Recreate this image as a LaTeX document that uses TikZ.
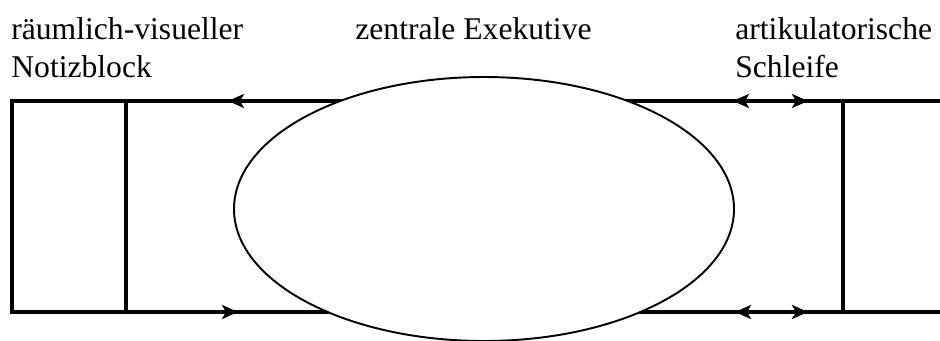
\documentclass[tikz,border=0pt]{standalone}
\usepackage{fontspec}
\setmainfont{Liberation Serif}
\usetikzlibrary{positioning,arrows.meta,shapes.geometric}
\tikzset{
  wm line/.style={line width=2.2pt,black},
  wm arrow/.style={wm line,-{Stealth[length=3.2mm,width=2.8mm,inset=0.8mm]}},
  wm twoway/.style={wm line,{Stealth[length=3.2mm,width=2.8mm,inset=0.8mm]}-{Stealth[length=3.2mm,width=2.8mm,inset=0.8mm]}},
  wm exec/.style={draw=black,line width=1.1pt,ellipse,fill=white,
    minimum width=10cm,minimum height=5.28cm,inner sep=0pt,outer sep=0pt},
  wm label/.style={font=\fontsize{18}{21.6}\selectfont,align=left,
    anchor=base west,inner sep=0pt}
}

\begin{document}
\begin{tikzpicture}
  \useasboundingbox (0,0) rectangle (18.8,6.8);

  % Frame of the two slave systems.
  \coordinate (top-r) at (18.8,4.78);
  \coordinate (top-l) at (0.24,4.78);
  \coordinate (bot-l) at (0.24,0.56);
  \coordinate (bot-r) at (18.8,0.56);
  \coordinate (nb-top) at (2.52,4.78);
  \coordinate (nb-bot) at (2.52,0.56);
  \coordinate (as-top) at (16.86,4.78);
  \coordinate (as-bot) at (16.86,0.56);
  \draw[wm line] (top-r) -- (top-l) -- (bot-l) -- (bot-r);
  \draw[wm line] (nb-top) -- (nb-bot);
  \draw[wm line] (as-top) -- (as-bot);

  % Flow markers.
  \coordinate (tl-from) at (6.0,4.78);
  \coordinate (tl-tip) at (4.56,4.78);
  \coordinate (bl-from) at (3.2,0.56);
  \coordinate (bl-tip) at (4.76,0.56);
  \coordinate (tr-a) at (14.66,4.78);
  \coordinate (tr-b) at (16.16,4.78);
  \coordinate (br-a) at (14.70,0.56);
  \coordinate (br-b) at (16.16,0.56);
  \draw[wm arrow] (tl-from) -- (tl-tip);
  \draw[wm arrow] (bl-from) -- (bl-tip);
  \draw[wm twoway] (tr-a) -- (tr-b);
  \draw[wm twoway] (br-a) -- (br-b);

  % Central executive.
  \node[wm exec] (exec) at (9.68,2.62) {};

  % Labels.
  \node[wm label] (nb-label) at (0.22,5.26) {räumlich-visueller\\Notizblock};
  \node[wm label] (exec-label) at (7.1,6.02) {zentrale Exekutive};
  \node[wm label] (as-label) at (14.7,5.26) {artikulatorische\\Schleife};
\end{tikzpicture}
\end{document}
